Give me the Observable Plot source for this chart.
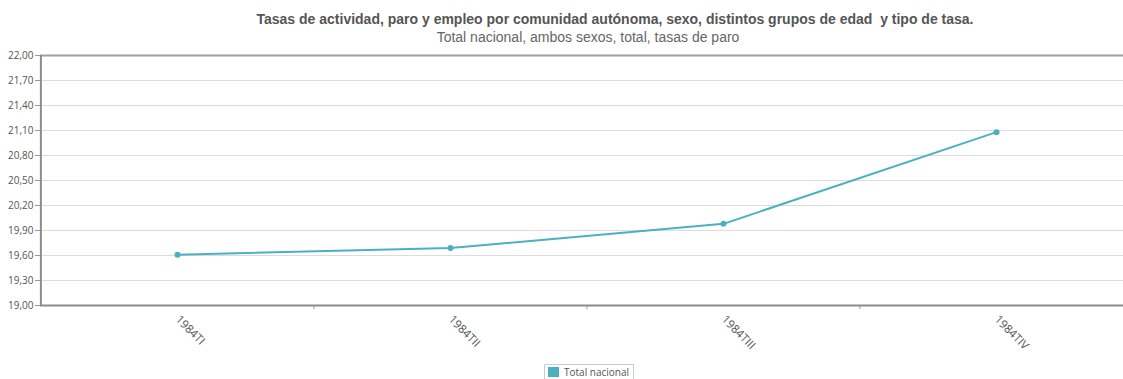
<!DOCTYPE html>
<html>
<head>
<meta charset="utf-8">
<script src="https://cdn.jsdelivr.net/npm/d3@7"></script>
<script src="https://cdn.jsdelivr.net/npm/@observablehq/plot@0.6"></script>
<style>
  html, body { margin: 0; padding: 0; background: #fff; overflow: hidden; width: 1123px; height: 379px; }
  #wrap { position: relative; width: 1123px; height: 379px; overflow: hidden; }
  #chart { position: absolute; left: 0; top: 0; width: 1133px; }
  #chart svg { max-width: none !important; }
  .title { position: absolute; top: 11px; left: 615px; transform: translateX(-50%); white-space: pre;
           font: bold 14px "Liberation Sans", Arial, sans-serif; color: #555; }
  .subtitle { position: absolute; top: 29px; left: 588px; transform: translateX(-50%); white-space: pre;
           font: 14px "Liberation Sans", Arial, sans-serif; color: #666; }
  .legend { position: absolute; top: 364px; left: 544px; height: 14px; padding: 0 4px 0 3px; border: 1px solid #ccc;
            display: flex; align-items: center; gap: 5px; font: 10px "Open Sans", sans-serif; color: #555; background: #fff; }
  .legend .sw { width: 11px; height: 10px; background: #4bb1c2; }
</style>
</head>
<body>
<div id="wrap">
  <div id="chart"></div>
  <div class="title" id="title"></div>
  <div class="subtitle" id="subtitle"></div>
  <div class="legend"><span class="sw"></span><span id="legname"></span></div>
</div>
<script>
const titleText = "Tasas de actividad, paro y empleo por comunidad autónoma, sexo, distintos grupos de edad  y tipo de tasa.";
const subtitleText = "Total nacional, ambos sexos, total, tasas de paro";
const seriesName = "Total nacional";
const periods = ["1984TI", "1984TII", "1984TIII", "1984TIV"];
const values = [19.61, 19.69, 19.98, 21.08];
const yTicks = [19.0, 19.3, 19.6, 19.9, 20.2, 20.5, 20.8, 21.1, 21.4, 21.7, 22.0];

document.getElementById("title").textContent = titleText;
document.getElementById("subtitle").textContent = subtitleText;
document.getElementById("legname").textContent = seriesName;

const data = periods.map((p, i) => ({period: p, value: values[i]}));
const color = "#4bb1c2";
const W = 1133, mL = 40, mR = 0;
const step = (W - mL - mR) / periods.length;
const fmt = d => d.toFixed(2).replace(".", ",");

const chart = Plot.plot({
  width: W,
  height: 379,
  marginTop: 55,
  marginBottom: 74,
  marginLeft: mL,
  marginRight: mR,
  style: {fontFamily: "'Open Sans', sans-serif", fontSize: "10px", color: "#666", background: "transparent", overflow: "visible", maxWidth: "none"},
  x: {type: "point", domain: periods, padding: 0.5},
  y: {type: "linear", domain: [19, 22]},
  marks: [
    Plot.ruleY(yTicks, {stroke: "#dcdcdc", strokeWidth: 1}),
    Plot.ruleY([22], {stroke: "#a0a0a0", strokeWidth: 2}),
    Plot.ruleX([periods[0]], {dx: -step / 2, y1: 19, y2: 22, stroke: "#8c8c8c", strokeWidth: 2}),
    Plot.ruleX(periods.slice(1), {dx: -step / 2, y1: 19, y2: 19, insetBottom: -4, stroke: "#999", strokeWidth: 1}),
    Plot.ruleY([19], {stroke: "#8c8c8c", strokeWidth: 2}),
    Plot.axisY({ticks: yTicks, tickFormat: fmt, tickSize: 5, tickPadding: 2, stroke: "#999", fill: "#555", fontSize: 10, label: null}),
    Plot.axisX({tickSize: 0, tickRotate: 45, tickPadding: 12, fill: "#555", fontSize: 11.5, label: null}),
    Plot.line(data, {x: "period", y: "value", stroke: color, strokeWidth: 2}),
    Plot.dot(data, {x: "period", y: "value", r: 3, fill: color})
  ]
});
document.getElementById("chart").appendChild(chart);
</script>
</body>
</html>
